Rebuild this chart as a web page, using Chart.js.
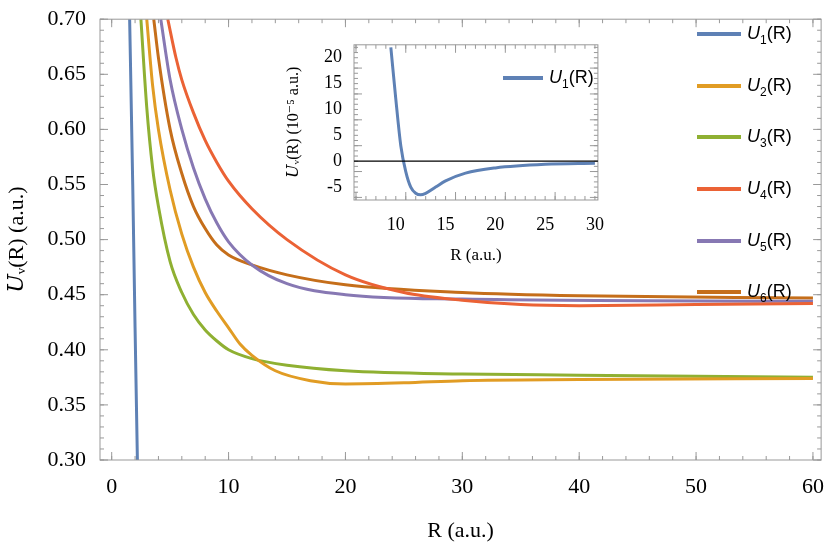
<!DOCTYPE html>
<html><head><meta charset="utf-8">
<script src="https://cdn.jsdelivr.net/npm/chart.js@4"></script>
<style>
body{margin:0;background:#fff;}
#wrap{position:relative;width:830px;height:548px;}
#inset{position:absolute;left:280px;top:30px;}
.leg{position:absolute;left:697px;font-family:"Liberation Sans",sans-serif;font-size:18px;color:#000;}
.leg span.ln{display:inline-block;width:44px;height:4px;vertical-align:middle;margin-right:6px;}
.leg sub{font-size:12px;}
</style></head><body>
<div id="wrap">
<canvas id="main" width="830" height="548"></canvas>
<canvas id="inset" width="330" height="240"></canvas>
</div>
<script>
// Setup values
var colors = ["#5E81B5","#E19C24","#8FB032","#EB6235","#8778B3","#C56E1A"];
var names = ["1","2","3","4","5","6"];
var xTicks = [0,10,20,30,40,50,60];
var yTicks = [0.30,0.35,0.40,0.45,0.50,0.55,0.60,0.65,0.70];

var r1 = [1.5,1.8,2.0,2.2,2.4];
var u1 = [0.72,0.55,0.42,0.30,0.20];
var r2 = [3,3.5,4,5,6,7,8,9,10,11,12,14,17,20,25,30,40,60];
var u2 = [0.70,0.64,0.60,0.545,0.505,0.475,0.452,0.435,0.42,0.405,0.395,0.381,0.372,0.369,0.370,0.372,0.373,0.374];
var r3 = [2.5,3,3.5,4,5,6,7,8,9,10,12,15,20,30,40,60];
var u3 = [0.70,0.62,0.565,0.53,0.48,0.452,0.432,0.418,0.408,0.400,0.392,0.386,0.381,0.378,0.377,0.375];
var r4 = [4.8,5.5,6,7,8,9,10,12,15,20,25,30,35,40,50,60];
var u4 = [0.70,0.665,0.645,0.615,0.59,0.57,0.553,0.528,0.50,0.468,0.452,0.445,0.441,0.440,0.441,0.442];
var r5 = [4.2,5,6,7,8,9,10,12,15,20,30,60];
var u5 = [0.70,0.645,0.60,0.565,0.537,0.515,0.498,0.477,0.46,0.45,0.446,0.444];
var r6 = [3.6,4,5,6,7,8,9,10,12,15,20,30,40,60];
var u6 = [0.70,0.665,0.60,0.56,0.53,0.51,0.495,0.486,0.477,0.468,0.459,0.452,0.449,0.447];

// inset U1 in 1e-5 a.u.
var rIn = [9.5,10,10.5,11,11.5,12,12.5,13,14,15,17,20,25,30];
var uIn = [22,12,3,-2,-5,-6.2,-6.5,-6.2,-5,-3.8,-2.3,-1.3,-0.6,-0.4];
var inTicksX = [10,15,20,25,30];
var inTicksY = [-5,0,5,10,15,20];

function pts(xs, ys){ return xs.map(function(x,i){ return {x:x, y:ys[i]}; }); }

// inward frame ticks on all sides
var frameTicks = {
  id:"frameTicks",
  afterDraw:function(chart, args, opts){
    var c = chart.ctx, a = chart.chartArea, sx = chart.scales.x, sy = chart.scales.y;
    c.save();
    c.strokeStyle = "#999"; c.lineWidth = 1;
    c.strokeRect(a.left, a.top, a.right-a.left, a.bottom-a.top);
    function tx(v, len){
      var p = sx.getPixelForValue(v);
      if(p < a.left || p > a.right) return;
      c.beginPath(); c.moveTo(p,a.bottom); c.lineTo(p,a.bottom-len);
      c.moveTo(p,a.top); c.lineTo(p,a.top+len); c.stroke();
    }
    function ty(v, len){
      var p = sy.getPixelForValue(v);
      if(p < a.top-0.5 || p > a.bottom+0.5) return;
      c.beginPath(); c.moveTo(a.left,p); c.lineTo(a.left+len,p);
      c.moveTo(a.right,p); c.lineTo(a.right-len,p); c.stroke();
    }
    var v;
    for(v = opts.xMin; v <= opts.xMax+1e-9; v += opts.xMinor) tx(v, 4);
    for(v = opts.xMin; v <= opts.xMax+1e-9; v += opts.xMajor) tx(v, 8);
    for(v = opts.yMin; v <= opts.yMax+1e-9; v += opts.yMinor) ty(v, 4);
    for(v = opts.yMin; v <= opts.yMax+1e-9; v += opts.yMajor) ty(v, 8);
    if(opts.zero){
      var z = sy.getPixelForValue(0);
      c.strokeStyle = "#000"; c.lineWidth = 1.2;
      c.beginPath(); c.moveTo(a.left,z); c.lineTo(a.right,z); c.stroke();
    }
    c.restore();
  }
};

var serif = "'Liberation Serif', 'DejaVu Serif', serif";

// Main chart
var rs = [r1,r2,r3,r4,r5,r6], us = [u1,u2,u3,u4,u5,u6];
var mainSets = rs.map(function(r,i){
  return {label:"U"+names[i], data:pts(r, us[i]), borderColor:colors[i], borderWidth:3,
          pointRadius:0, cubicInterpolationMode:"monotone", fill:false};
});
new Chart(document.getElementById("main").getContext("2d"), {
  type:"line",
  data:{datasets:mainSets},
  plugins:[frameTicks],
  options:{
    responsive:false, animation:false,
    layout:{padding:{top:12,right:5}},
    plugins:{legend:{display:false}, tooltip:{enabled:false},
      frameTicks:{xMin:0,xMax:60,xMinor:2,xMajor:10,yMin:0.30,yMax:0.70,yMinor:0.01,yMajor:0.05}},
    scales:{
      x:{type:"linear", min:-1, max:60.7,
        afterBuildTicks:function(s){ s.ticks = xTicks.map(function(v){return {value:v};}); },
        afterFit:function(s){ s.height = 88; },
        grid:{display:false}, border:{display:false},
        ticks:{color:"#000", font:{family:serif,size:22}, padding:6, maxRotation:0},
        title:{display:true, text:"R (a.u.)", color:"#000", font:{family:serif,size:22}, padding:{top:12}}},
      y:{type:"linear", min:0.30, max:0.70,
        afterBuildTicks:function(s){ s.ticks = yTicks.map(function(v){return {value:v};}); },
        afterFit:function(s){ s.width = 100; },
        grid:{display:false}, border:{display:false},
        ticks:{color:"#000", font:{family:serif,size:22}, padding:6,
          callback:function(v){ return v.toFixed(2); }},
        title:{display:true, text:"𝑈ᵥ(R) (a.u.)", color:"#000", font:{family:serif,size:22}, padding:{bottom:2}}}
    }
  }
});

// Inset chart
new Chart(document.getElementById("inset").getContext("2d"), {
  type:"line",
  data:{datasets:[{label:"U1", data:pts(rIn,uIn), borderColor:colors[0], borderWidth:3,
    pointRadius:0, cubicInterpolationMode:"monotone", fill:false}]},
  plugins:[frameTicks],
  options:{
    responsive:false, animation:false,
    layout:{padding:{top:14,right:7}},
    plugins:{legend:{display:false}, tooltip:{enabled:false},
      frameTicks:{xMin:6,xMax:30,xMinor:1,xMajor:5,yMin:-7,yMax:22,yMinor:1,yMajor:5,zero:true}},
    scales:{
      x:{type:"linear", min:5.8, max:30.3,
        afterBuildTicks:function(s){ s.ticks = inTicksX.map(function(v){return {value:v};}); },
        afterFit:function(s){ s.height = 70; },
        grid:{display:false}, border:{display:false},
        ticks:{color:"#000", font:{family:serif,size:18}, padding:6, maxRotation:0},
        title:{display:true, text:"R (a.u.)", color:"#000", font:{family:serif,size:17}, padding:{top:6}}},
      y:{type:"linear", min:-7.5, max:22.5,
        afterBuildTicks:function(s){ s.ticks = inTicksY.map(function(v){return {value:v};}); },
        afterFit:function(s){ s.width = 74; },
        grid:{display:false}, border:{display:false},
        ticks:{color:"#000", font:{family:serif,size:18}, padding:4},
        title:{display:true, text:"𝑈ᵥ(R) (10⁻⁵ a.u.)", color:"#000", font:{family:serif,size:16}, padding:{bottom:0}}}
    }
  }
});

// Legends (HTML)
var wrap = document.getElementById("wrap");
var legY = [35,87,138,190,242,293];
legY.forEach(function(y,i){
  var d = document.createElement("div");
  d.className = "leg"; d.style.top = (y-12)+"px";
  d.innerHTML = '<span class="ln" style="background:'+colors[i]+'"></span><i>U</i><sub>'+names[i]+'</sub>(R)';
  wrap.appendChild(d);
});
var d2 = document.createElement("div");
d2.className = "leg"; d2.style.left = "503px"; d2.style.top = "67px";
d2.innerHTML = '<span class="ln" style="background:'+colors[0]+';width:40px"></span><i>U</i><sub>1</sub>(R)';
wrap.appendChild(d2);
</script>
</body></html>
